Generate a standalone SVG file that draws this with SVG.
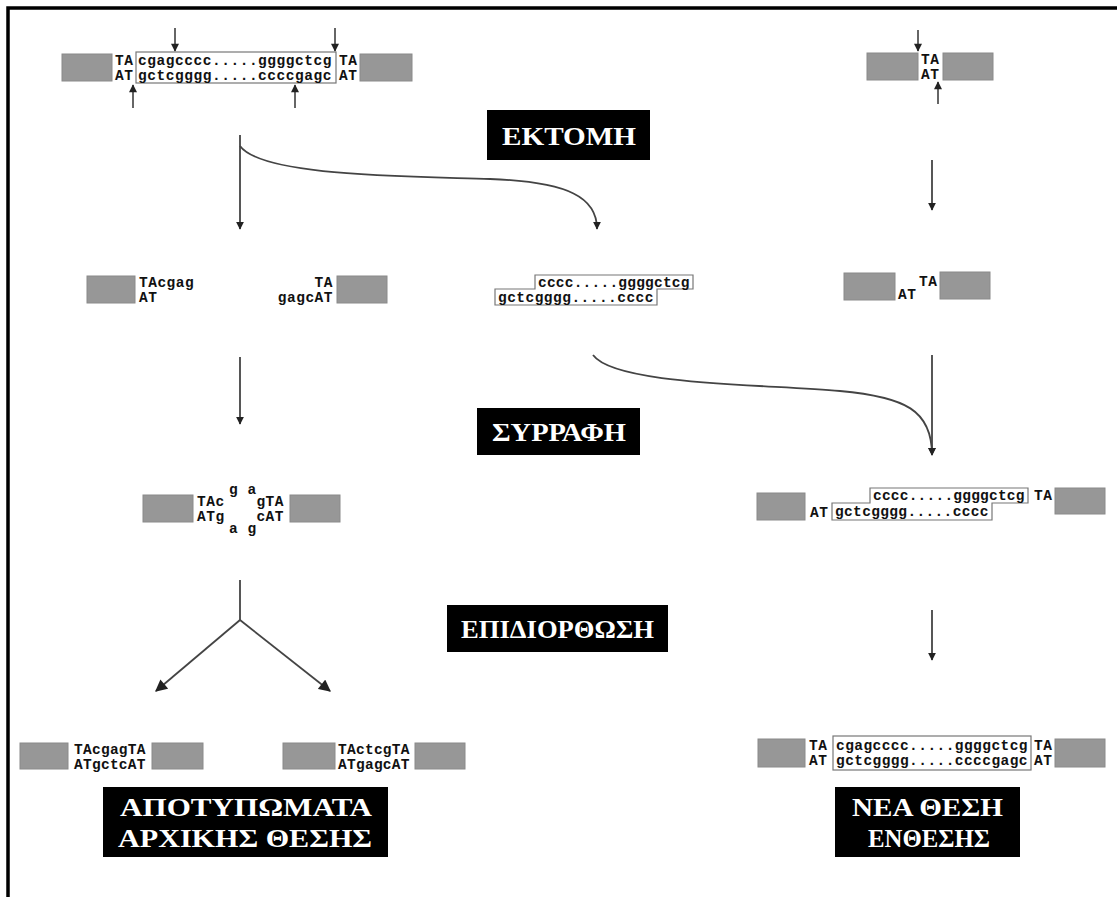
<svg xmlns="http://www.w3.org/2000/svg" width="1117" height="897" viewBox="0 0 1117 897">
<style>
.dna{font-family:"Liberation Mono","DejaVu Sans Mono",monospace;font-weight:bold;font-size:14.5px;letter-spacing:0.5px;fill:#111}
.gb{fill:#979797;stroke:#8a8a8a;stroke-width:1}
.ob{fill:none;stroke:#777;stroke-width:1.2}
.lbl{fill:#000}
.lt{font-family:"Liberation Serif","Times New Roman",serif;font-weight:bold;font-size:25px;fill:#fff}
.con{fill:none;stroke:#444;stroke-width:1.8}
.sa{fill:none;stroke:#333;stroke-width:1.5}
</style>
<defs>
<marker id="ah" viewBox="0 0 10 10" refX="9" refY="5" markerWidth="8" markerHeight="11" orient="auto" markerUnits="userSpaceOnUse">
<path d="M0,0 L10,5 L0,10 z" fill="#222"/>
</marker>
<marker id="ahs" viewBox="0 0 10 10" refX="9" refY="5" markerWidth="9" markerHeight="8" orient="auto" markerUnits="userSpaceOnUse">
<path d="M0,0 L10,5 L0,10 z" fill="#222"/>
</marker>
<marker id="ahb" viewBox="0 0 10 10" refX="9" refY="5" markerWidth="13" markerHeight="12" orient="auto" markerUnits="userSpaceOnUse">
<path d="M0,0 L10,5 L0,10 z" fill="#222"/>
</marker>
</defs>
<rect width="1117" height="897" fill="#fff"/>
<g id="frame">
<path d="M8,897 V8 H1117" fill="none" stroke="#000" stroke-width="3.5"/>
</g>

<g id="dna-top-left">
<rect class="gb" x="62" y="54" width="50" height="27"/>
<text class="dna" x="115" y="65">TA</text>
<text class="dna" x="115" y="80">AT</text>
<rect class="ob" x="136" y="52" width="200" height="31"/>
<text class="dna" x="138" y="65" textLength="194">cgagcccc.....ggggctcg</text>
<text class="dna" x="138" y="80" textLength="194">gctcgggg.....ccccgagc</text>
<text class="dna" x="339" y="65">TA</text>
<text class="dna" x="339" y="80">AT</text>
<rect class="gb" x="360" y="54" width="52" height="27"/>
<path class="sa" d="M175,28 V51" marker-end="url(#ahs)"/>
<path class="sa" d="M335,28 V51" marker-end="url(#ahs)"/>
<path class="sa" d="M133,108 V85" marker-end="url(#ahs)"/>
<path class="sa" d="M295,108 V85" marker-end="url(#ahs)"/>
</g>

<g id="dna-top-right">
<rect class="gb" x="867" y="53" width="51" height="27"/>
<text class="dna" x="921" y="64">TA</text>
<text class="dna" x="921" y="79">AT</text>
<rect class="gb" x="943" y="53" width="50" height="27"/>
<path class="sa" d="M918,30 V51" marker-end="url(#ahs)"/>
<path class="sa" d="M938,104 V82" marker-end="url(#ahs)"/>
</g>

<g id="label-ektomh">
<rect class="lbl" x="487" y="110" width="163" height="50"/>
<text class="lt" x="502" y="145" textLength="134" lengthAdjust="spacingAndGlyphs">ΕΚΤΟΜΗ</text>
</g>

<g id="dna-row2-left">
<rect class="gb" x="87" y="276" width="48" height="27"/>
<text class="dna" x="139" y="287">TAcgag</text>
<text class="dna" x="139" y="302">AT</text>
</g>
<g id="dna-row2-mid">
<text class="dna" x="333" y="287" text-anchor="end">TA</text>
<text class="dna" x="333" y="302" text-anchor="end">gagcAT</text>
<rect class="gb" x="337" y="276" width="50" height="27"/>
</g>
<g id="dna-row2-fragment">
<path class="ob" d="M535,275 H693 V289 H657 V305 H495 V289 H535 Z"/>
<text class="dna" x="538" y="287" textLength="152">cccc.....ggggctcg</text>
<text class="dna" x="498" y="302" textLength="156">gctcgggg.....cccc</text>
</g>
<g id="dna-row2-right">
<rect class="gb" x="844" y="273" width="51" height="27"/>
<text class="dna" x="898" y="299">AT</text>
<text class="dna" x="919" y="286">TA</text>
<rect class="gb" x="940" y="272" width="50" height="27"/>
</g>

<g id="label-syrrafh">
<rect class="lbl" x="477" y="408" width="163" height="47"/>
<text class="lt" x="492" y="441" textLength="134" lengthAdjust="spacingAndGlyphs">ΣΥΡΡΑΦΗ</text>
</g>

<g id="dna-row3-left">
<rect class="gb" x="143" y="495" width="50" height="27"/>
<text class="dna" x="197" y="506">TAc</text>
<text class="dna" x="197" y="521">ATg</text>
<text class="dna" x="229" y="494">g a</text>
<text class="dna" x="229" y="533">a g</text>
<text class="dna" x="284" y="506" text-anchor="end">gTA</text>
<text class="dna" x="284" y="521" text-anchor="end">cAT</text>
<rect class="gb" x="290" y="495" width="50" height="27"/>
</g>

<g id="dna-row3-right">
<rect class="gb" x="757" y="493" width="48" height="27"/>
<text class="dna" x="810" y="517">AT</text>
<path class="ob" d="M870,488 H1028 V503 H992 V520 H832 V503 H870 Z"/>
<text class="dna" x="873" y="500" textLength="152">cccc.....ggggctcg</text>
<text class="dna" x="835" y="516" textLength="154">gctcgggg.....cccc</text>
<text class="dna" x="1034" y="500">TA</text>
<rect class="gb" x="1055" y="488" width="50" height="26"/>
</g>

<g id="label-epidiorthosh">
<rect class="lbl" x="447" y="605" width="221" height="47"/>
<text class="lt" x="461" y="638" textLength="193" lengthAdjust="spacingAndGlyphs">ΕΠΙΔΙΟΡΘΩΣΗ</text>
</g>

<g id="dna-row4-a">
<rect class="gb" x="20" y="743" width="48" height="26"/>
<text class="dna" x="74" y="754" textLength="72">TAcgagTA</text>
<text class="dna" x="74" y="769" textLength="72">ATgctcAT</text>
<rect class="gb" x="152" y="743" width="51" height="26"/>
</g>
<g id="dna-row4-b">
<rect class="gb" x="283" y="743" width="52" height="26"/>
<text class="dna" x="338" y="754" textLength="72">TActcgTA</text>
<text class="dna" x="338" y="769" textLength="72">ATgagcAT</text>
<rect class="gb" x="415" y="743" width="50" height="26"/>
</g>
<g id="dna-row4-right">
<rect class="gb" x="758" y="739" width="47" height="28"/>
<text class="dna" x="809" y="750">TA</text>
<text class="dna" x="809" y="765">AT</text>
<rect class="ob" x="833" y="736" width="198" height="34"/>
<text class="dna" x="836" y="750" textLength="192">cgagcccc.....ggggctcg</text>
<text class="dna" x="836" y="765" textLength="192">gctcgggg.....ccccgagc</text>
<text class="dna" x="1034" y="750">TA</text>
<text class="dna" x="1034" y="765">AT</text>
<rect class="gb" x="1055" y="739" width="50" height="28"/>
</g>

<g id="label-apotypwmata">
<rect class="lbl" x="103" y="787" width="285" height="70"/>
<text class="lt" x="120" y="816" textLength="252" lengthAdjust="spacingAndGlyphs">ΑΠΟΤΥΠΩΜΑΤΑ</text>
<text class="lt" x="118" y="847" textLength="254" lengthAdjust="spacingAndGlyphs">ΑΡΧΙΚΗΣ ΘΕΣΗΣ</text>
</g>
<g id="label-nea-thesh">
<rect class="lbl" x="835" y="787" width="185" height="70"/>
<text class="lt" x="852" y="816" textLength="151" lengthAdjust="spacingAndGlyphs">ΝΕΑ ΘΕΣΗ</text>
<text class="lt" x="868" y="847" textLength="122" lengthAdjust="spacingAndGlyphs">ΕΝΘΕΣΗΣ</text>
</g>

<g id="connectors">
<path class="con" d="M240,135 V229" marker-end="url(#ah)"/>
<path class="con" d="M240,146 C262,176 400,176 490,179 C570,182 597,198 597,229" marker-end="url(#ah)"/>
<path class="con" d="M932,160 V210" marker-end="url(#ah)"/>
<path class="con" d="M240,357 V424" marker-end="url(#ah)"/>
<path class="con" d="M593,355 C615,385 760,384 840,391 C905,397 932,410 932,455" marker-end="url(#ah)"/>
<path class="con" d="M932,355 V455" marker-end="url(#ah)"/>
<path class="con" d="M240,580 V620"/>
<path class="con" d="M240,620 L156,691" marker-end="url(#ahb)"/>
<path class="con" d="M240,620 L330,691" marker-end="url(#ahb)"/>
<path class="con" d="M932,610 V660" marker-end="url(#ah)"/>
</g>
</svg>
